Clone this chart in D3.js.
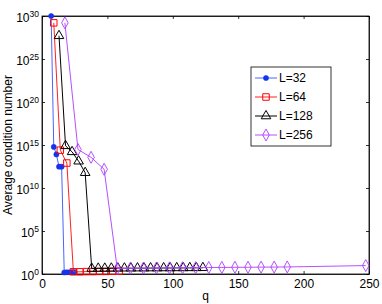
<!DOCTYPE html>
<html>
<head>
<meta charset="utf-8">
<script src="https://cdn.jsdelivr.net/npm/d3@7"></script>
<style>
  body { margin: 0; background: #fff; }
  svg { font-family: "Liberation Sans", Arial, sans-serif; }
  .axis path, .axis line { stroke: #000; stroke-width: 0.8; }
  .axis text { fill: #000; font-size: 12px; }
</style>
</head>
<body>
<div id="chart"></div>
<script>
// data
var q32 = [7, 9, 11, 13, 15, 17, 19, 21, 23, 25];
var v32 = [1e30, 6e14, 8e13, 3e12, 3e12, 1.5, 1.6, 1.6, 1.7, 1.7];

var q64 = [9, 14, 19, 24, 29, 34, 39, 44, 49, 54, 59];
var v64 = [1.6e29, 2.5e14, 8e12, 1.8, 1.8, 1.9, 1.9, 2, 2, 2.1, 2.1];

var q128 = [13, 18, 23, 28, 33, 38, 43, 48, 53, 58, 63, 68, 73, 78, 83, 88, 93, 98, 103, 108, 113, 118, 123];
var v128 = [5e27, 8e14, 1.6e14, 1.3e13, 6e11, 4.4, 4.5, 4.5, 4.6, 4.6, 4.7, 4.7, 4.8, 4.8, 4.9, 4.9, 5, 5, 5.1, 5.1, 5.2, 5.2, 5.3];

var q256 = [17.5, 27.5, 37.5, 47.5, 57.5, 67.5, 77.5, 87.5, 97.5, 107.5, 117.5, 127.5, 137.5, 147.5, 157.5, 167.5, 177.5, 187.5, 247.5];
var v256 = [1.6e29, 3e14, 3.7e13, 1.5e12, 4.5, 4.7, 4.9, 5, 5.2, 5.4, 5.5, 5.7, 5.8, 6, 6.1, 6.3, 6.4, 6.6, 9.5];

var labels = ["L=32", "L=64", "L=128", "L=256"];
var xTicks = [0, 50, 100, 150, 200, 250];
var yExps = [0, 5, 10, 15, 20, 25, 30];

var series = [
  {name: labels[0], q: q32, v: v32, line: "#4a64ff", mark: "#1433ee", symbol: "dot"},
  {name: labels[1], q: q64, v: v64, line: "#ff2020", mark: "#ff0000", symbol: "square"},
  {name: labels[2], q: q128, v: v128, line: "#000000", mark: "#000000", symbol: "triangle"},
  {name: labels[3], q: q256, v: v256, line: "#b650ff", mark: "#b040ff", symbol: "diamond"}
];

var W = 382, H = 304;
var margin = {top: 16, right: 13, bottom: 30, left: 42};
var width = W - margin.left - margin.right,
    height = H - margin.top - margin.bottom;

var svg = d3.select("#chart").append("svg")
    .attr("width", W)
    .attr("height", H);

svg.append("rect").attr("width", W).attr("height", H).attr("fill", "#fff");

var g = svg.append("g")
    .attr("transform", "translate(" + margin.left + "," + margin.top + ")");

var x = d3.scaleLinear().domain([0, 250]).range([0, width]);
var y = d3.scaleLog().domain([1, 1e30]).range([height, 0]);

// axes with ticks pointing inward, box on
var xAxis = d3.axisBottom(x).tickValues(xTicks).tickSizeInner(-3).tickSizeOuter(0).tickPadding(5);
g.append("g").attr("class", "axis x-axis")
    .attr("transform", "translate(0," + height + ")")
    .call(xAxis);
g.append("g").attr("class", "axis")
    .call(d3.axisTop(x).tickValues(xTicks).tickSizeInner(-3).tickSizeOuter(0).tickFormat(""));

var yTickVals = yExps.map(function(e) { return Math.pow(10, e); });
var yAxis = d3.axisLeft(y).tickValues(yTickVals).tickSizeInner(-3).tickSizeOuter(0).tickFormat("");
var ya = g.append("g").attr("class", "axis y-axis").call(yAxis);
ya.selectAll(".tick text").each(function(d) {
  var t = d3.select(this);
  t.append("tspan").text("10");
  t.append("tspan").attr("dy", "-0.6em").attr("font-size", "8.5px").text(Math.round(Math.log10(d)));
}).attr("dy", "0.45em").attr("x", -3);
g.append("g").attr("class", "axis")
    .attr("transform", "translate(" + width + ",0)")
    .call(d3.axisRight(y).tickValues(yTickVals).tickSizeInner(-3).tickSizeOuter(0).tickFormat(""));

// frame
g.append("rect").attr("width", width).attr("height", height)
    .attr("fill", "none").attr("stroke", "#000").attr("stroke-width", 0.8);

var line = d3.line()
    .x(function(d) { return x(d[0]); })
    .y(function(d) { return y(d[1]); });

function drawMarker(sel, s) {
  if (s.symbol === "dot") {
    sel.append("circle").attr("r", 2.6).attr("fill", s.mark).attr("stroke", s.mark).attr("stroke-width", 0.5);
  } else {
    var type = s.symbol === "square" ? d3.symbolSquare : s.symbol === "triangle" ? d3.symbolTriangle : d3.symbolDiamond;
    var size = s.symbol === "square" ? 42 : s.symbol === "triangle" ? 40 : 46;
    sel.append("path").attr("d", d3.symbol().type(type).size(size)())
        .attr("fill", "none").attr("stroke", s.mark).attr("stroke-width", 1)
        .attr("transform", s.symbol === "diamond" ? "scale(0.9,0.95)" : null);
  }
}

series.forEach(function(s) {
  var pts = s.q.map(function(q, i) { return [q, s.v[i]]; });
  g.append("path").datum(pts)
      .attr("fill", "none").attr("stroke", s.line).attr("stroke-width", 1)
      .attr("d", line);
  var m = g.append("g").selectAll("g").data(pts).join("g")
      .attr("transform", function(d) { return "translate(" + x(d[0]) + "," + y(d[1]) + ")"; });
  m.each(function() { drawMarker(d3.select(this), s); });
});

// axis labels
svg.append("text").attr("x", margin.left + width / 2).attr("y", 300)
    .attr("text-anchor", "middle").attr("font-size", "12px").text("q");
svg.append("text")
    .attr("transform", "translate(12," + (margin.top + height / 2) + ") rotate(-90)")
    .attr("text-anchor", "middle").attr("font-size", "12px").text("Average condition number");

// legend
var lg = svg.append("g").attr("transform", "translate(251,67)");
lg.append("rect").attr("width", 80).attr("height", 79)
    .attr("fill", "#fff").attr("stroke", "#000").attr("stroke-width", 0.8);
series.forEach(function(s, i) {
  var row = lg.append("g").attr("transform", "translate(0," + (11 + i * 19) + ")");
  row.append("line").attr("x1", 4).attr("x2", 26).attr("stroke", s.line).attr("stroke-width", 1);
  var mk = row.append("g").attr("transform", "translate(15,0)");
  drawMarker(mk, s);
  row.append("text").attr("x", 28).attr("dy", "0.36em").attr("font-size", "12px").text(s.name);
});
</script>
</body>
</html>
